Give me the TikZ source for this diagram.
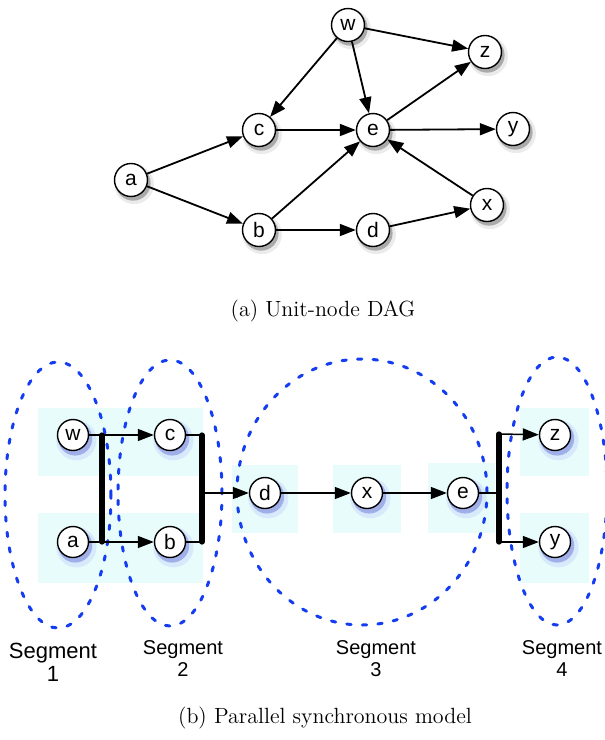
\documentclass[tikz,border=0pt]{standalone}
\usepackage{fontspec}
\setsansfont{Liberation Sans}
\usetikzlibrary{arrows.meta,shadows}
\definecolor{segblue}{RGB}{20,60,240}
\definecolor{slotcyan}{RGB}{232,252,252}

\begin{document}
\begin{tikzpicture}[x=0.5pt, y=-0.5pt,
  every node/.style = {font=\sffamily\fontsize{10}{11}\selectfont},
  unit/.style = {circle, draw, line width=0.7pt, fill=white,
    inner sep=0pt, minimum size=16.5pt,
    font=\sffamily\fontsize{10.5}{11}\selectfont},
  dagnode/.style = {unit,
    general shadow={shadow xshift=1.3pt, shadow yshift=-1.8pt,
      shadow scale=1.2, fill=black, opacity=0.08},
    general shadow={shadow xshift=1pt, shadow yshift=-1.5pt,
      shadow scale=1.06, fill=black, opacity=0.28}},
  psnode/.style = {unit, minimum size=15.5pt,
    general shadow={shadow xshift=1.3pt, shadow yshift=-2pt,
      shadow scale=1.3, fill=blue, opacity=0.07},
    general shadow={shadow xshift=1pt, shadow yshift=-1.6pt,
      shadow scale=1.1, fill=blue!70!black, opacity=0.25}},
  arr/.style = {-{Triangle[length=8pt,width=6pt]}, line width=0.9pt},
  link/.style = {line width=0.75pt},
  bar/.style = {line width=2.6pt, line cap=round},
  segment/.style = {draw=segblue, line width=1.5pt, line cap=round,
    dash pattern=on 2.2pt off 5.6pt},
  slot/.style = {fill=slotcyan},
  caption/.style = {font=\rmfamily\fontsize{11}{13}\selectfont},
  seglabel/.style = {align=center}]
  \useasboundingbox (0,0) rectangle (605,740);

  % (a) unit-node DAG
  \node[dagnode] (w) at (348,25)  {w};
  \node[dagnode] (z) at (485,52)  {z};
  \node[dagnode] (c) at (259,130) {c};
  \node[dagnode] (e) at (373,130) {e};
  \node[dagnode] (y) at (513,129) {y};
  \node[dagnode] (a) at (131,180) {a};
  \node[dagnode] (x) at (487,205) {x};
  \node[dagnode] (b) at (259,230) {b};
  \node[dagnode] (d) at (373,230) {d};

  \draw[arr] (a) -- (c);
  \draw[arr] (a) -- (b);
  \draw[arr] (w) -- (c);
  \draw[arr] (w) -- (e);
  \draw[arr] (w) -- (z);
  \draw[arr] (c) -- (e);
  \draw[arr] (e) -- (y);
  \draw[arr] (e) -- (z);
  \draw[arr] (b) -- (e);
  \draw[arr] (b) -- (d);
  \draw[arr] (d) -- (x);
  \draw[arr] (x) -- (e);

  \node[caption] (capa) at (323,311) {(a) Unit-node DAG};

  % (b) parallel synchronous model
  \fill[slot] (38,408) rectangle (203,476);
  \fill[slot] (38,513) rectangle (203,583);
  \fill[slot] (232,465) rectangle (298,533);
  \fill[slot] (333,465) rectangle (401,533);
  \fill[slot] (428,463) rectangle (495,533);
  \fill[slot] (520,408) rectangle (589,476);
  \fill[slot] (520,513) rectangle (589,583);

  \draw[segment] (58,495)  ellipse [x radius=26.5pt, y radius=66.5pt];
  \draw[segment] (170,493) ellipse [x radius=26pt,   y radius=66.5pt];
  \draw[segment] (362,492) ellipse [x radius=62.5pt, y radius=66.5pt];
  \draw[segment] (557,491) ellipse [x radius=25pt,   y radius=67pt];

  \node[psnode] (w2) at (73,435)  {w};
  \node[psnode] (c2) at (170,435) {c};
  \node[psnode] (a2) at (73,542)  {a};
  \node[psnode] (b2) at (170,542) {b};
  \node[psnode] (d2) at (265,493) {d};
  \node[psnode] (x2) at (367,493) {x};
  \node[psnode] (e2) at (463,493) {e};
  \node[psnode] (z2) at (555,435) {z};
  \node[psnode] (y2) at (555,542) {y};

  \coordinate (bar1t) at (102,435);
  \coordinate (bar1b) at (102,542);
  \coordinate (bar2t) at (202,435);
  \coordinate (bar2m) at (202,493);
  \coordinate (bar2b) at (202,542);
  \coordinate (bar4t) at (499,434);
  \coordinate (bar4m) at (499,493);
  \coordinate (bar4b) at (499,542);

  \draw[arr, link] (w2) -- (c2);
  \draw[arr, link] (a2) -- (b2);
  \draw[link] (c2) -- (bar2t);
  \draw[link] (b2) -- (bar2b);
  \draw[arr, link] (bar2m) -- (d2);
  \draw[arr, link] (d2) -- (x2);
  \draw[arr, link] (x2) -- (e2);
  \draw[link] (e2) -- (bar4m);
  \draw[arr, link] (bar4t) -- (z2);
  \draw[arr, link] (bar4b) -- (y2);

  \draw[bar] (bar1t) -- (bar1b);
  \draw[bar] (bar2t) -- (bar2b);
  \draw[bar] (bar4t) -- (bar4b);

  \node[seglabel, font=\sffamily\fontsize{11}{11.5}\selectfont] (s1) at (53,662) {Segment\\1};
  \node[seglabel] (s2) at (183,659) {Segment\\2};
  \node[seglabel] (s3) at (376,659) {Segment\\3};
  \node[seglabel] (s4) at (562,659) {Segment\\4};

  \node[caption] (capb) at (325,718) {(b) Parallel synchronous model};
\end{tikzpicture}
\end{document}
